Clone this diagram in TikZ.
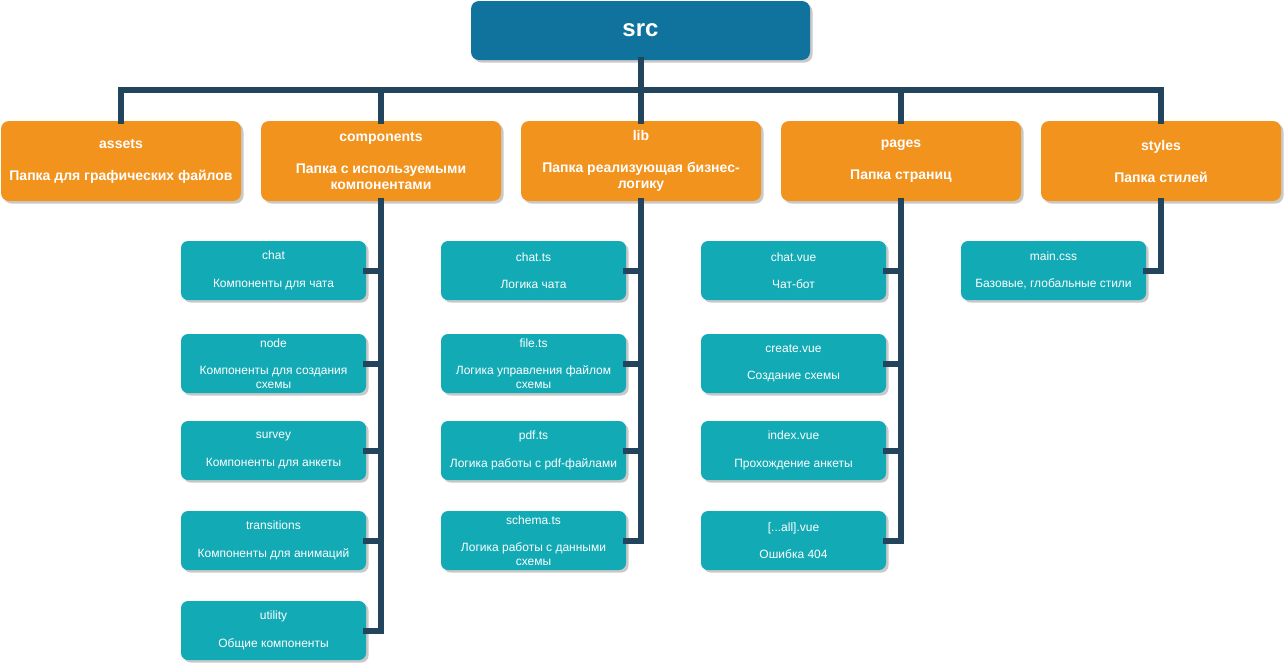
\documentclass[tikz,border=0pt]{standalone}
\usepackage{fontspec}
\setmainfont{Liberation Sans}
\usetikzlibrary{shadows}
\definecolor{srcblue}{HTML}{10739E}
\definecolor{folderorange}{HTML}{F2931E}
\definecolor{fileteal}{HTML}{12AAB5}
\definecolor{linenavy}{HTML}{23445D}
\tikzset{
  x=1pt, y=-1pt,
  boxshadow/.style={drop shadow={shadow xshift=2.5pt, shadow yshift=-2.5pt, opacity=0.3, fill=black!70}},
  srcbox/.style={boxshadow, fill=srcblue, draw=none, rounded corners=8pt, minimum width=339pt, minimum height=59pt,
    text=white, font=\fontsize{24}{28}\selectfont\bfseries, inner sep=0pt},
  folderbox/.style={boxshadow, fill=folderorange, draw=none, rounded corners=8pt, minimum width=240pt, minimum height=80pt,
    text=white, font=\fontsize{14}{16}\selectfont\bfseries, align=center, inner sep=2pt},
  filebox/.style={boxshadow, fill=fileteal, draw=none, rounded corners=7pt, minimum width=185pt, minimum height=59pt,
    text=white, font=\fontsize{12}{13.7}\selectfont, align=center, inner sep=2pt},
  conn/.style={draw=linenavy, line width=6pt, line join=miter, line cap=rect},
}
\begin{document}
\begin{tikzpicture}
\useasboundingbox (0,0) rectangle (1285,665);
% root
\node[srcbox] (src) at (640.5,30.5) {src};
% folders
\node[folderbox] (assets) at (121,161) {assets\\[16pt]Папка для графических файлов};
\node[folderbox] (components) at (381,161) {components\\[16pt]Папка с используемыми\\компонентами};
\node[folderbox] (lib) at (641,161) {lib\\[16pt]Папка реализующая бизнес-\\логику};
\node[folderbox] (pages) at (901,161) {pages\\[16pt]Папка страниц};
\node[folderbox] (styles) at (1161,161) {styles\\[16pt]Папка стилей};
% components children
\node[filebox] (cchat) at (273.5,270.5) {chat\\[13.7pt]Компоненты для чата};
\node[filebox] (cnode) at (273.5,363.5) {node\\[13.7pt]Компоненты для создания\\схемы};
\node[filebox] (csurvey) at (273.5,450.5) {survey\\[13.7pt]Компоненты для анкеты};
\node[filebox] (ctrans) at (273.5,540.5) {transitions\\[13.7pt]Компоненты для анимаций};
\node[filebox] (cutil) at (273.5,630.5) {utility\\[13.7pt]Общие компоненты};
% lib children
\node[filebox] (lchat) at (533.5,270.5) {chat.ts\\[13.7pt]Логика чата};
\node[filebox] (lfile) at (533.5,363.5) {file.ts\\[13.7pt]Логика управления файлом\\схемы};
\node[filebox] (lpdf) at (533.5,450.5) {pdf.ts\\[13.7pt]Логика работы с pdf-файлами};
\node[filebox] (lschema) at (533.5,540.5) {schema.ts\\[13.7pt]Логика работы с данными\\схемы};
% pages children
\node[filebox] (pchat) at (793.5,270.5) {chat.vue\\[13.7pt]Чат-бот};
\node[filebox] (pcreate) at (793.5,363.5) {create.vue\\[13.7pt]Создание схемы};
\node[filebox] (pindex) at (793.5,450.5) {index.vue\\[13.7pt]Прохождение анкеты};
\node[filebox] (pall) at (793.5,540.5) {[...all].vue\\[13.7pt]Ошибка 404};
% styles children
\node[filebox] (smain) at (1053.5,270.5) {main.css\\[13.7pt]Базовые, глобальные стили};
% bus
\coordinate (bus) at (640,90);
\draw[conn] (src.south) -- (src.south |- bus);
\draw[conn] (assets.north) -- (assets.north |- bus) -- (styles.north |- bus) -- (styles.north);
\draw[conn] (components.north |- bus) -- (components.north);
\draw[conn] (lib.north |- bus) -- (lib.north);
\draw[conn] (pages.north |- bus) -- (pages.north);
% components spine
\draw[conn] (components.south) -- (components.south |- cutil.east) -- (cutil.east);
\draw[conn] (cchat.east) -- (cchat.east -| components.south);
\draw[conn] (cnode.east) -- (cnode.east -| components.south);
\draw[conn] (csurvey.east) -- (csurvey.east -| components.south);
\draw[conn] (ctrans.east) -- (ctrans.east -| components.south);
% lib spine
\draw[conn] (lib.south) -- (lib.south |- lschema.east) -- (lschema.east);
\draw[conn] (lchat.east) -- (lchat.east -| lib.south);
\draw[conn] (lfile.east) -- (lfile.east -| lib.south);
\draw[conn] (lpdf.east) -- (lpdf.east -| lib.south);
% pages spine
\draw[conn] (pages.south) -- (pages.south |- pall.east) -- (pall.east);
\draw[conn] (pchat.east) -- (pchat.east -| pages.south);
\draw[conn] (pcreate.east) -- (pcreate.east -| pages.south);
\draw[conn] (pindex.east) -- (pindex.east -| pages.south);
% styles spine
\draw[conn] (styles.south) -- (styles.south |- smain.east) -- (smain.east);
\end{tikzpicture}
\end{document}
